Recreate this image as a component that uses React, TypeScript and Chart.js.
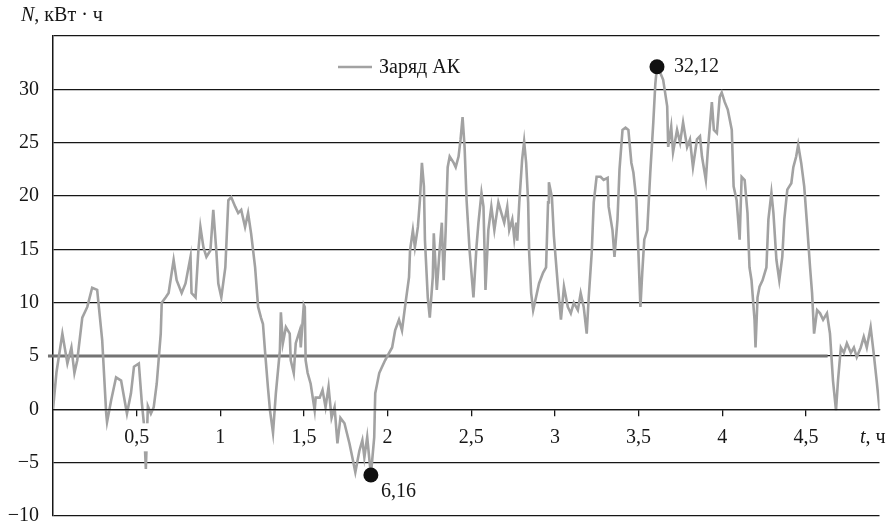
import React, { useEffect, useRef } from 'react';
import { Chart, registerables } from 'chart.js';

Chart.register(...registerables);

// ---- data ----
const timeH = [
  0.000, 0.021, 0.056, 0.086, 0.110, 0.128, 0.145, 0.175, 0.205, 0.234, 0.264, 0.294, 0.318, 0.323, 0.347, 0.377,
  0.407, 0.442, 0.466, 0.484, 0.513, 0.531, 0.543, 0.555, 0.567, 0.585, 0.602, 0.620, 0.644, 0.650, 0.674, 0.691,
  0.721, 0.739, 0.769, 0.792, 0.822, 0.828, 0.852, 0.869, 0.881, 0.899, 0.917, 0.941, 0.958, 0.976, 0.988, 1.006,
  1.030, 1.048, 1.065, 1.089, 1.107, 1.125, 1.148, 1.166, 1.184, 1.208, 1.226, 1.243, 1.255, 1.267, 1.285, 1.297,
  1.315, 1.332, 1.356, 1.362, 1.374, 1.392, 1.415, 1.421, 1.439, 1.451, 1.475, 1.481, 1.499, 1.505, 1.510, 1.522,
  1.540, 1.564, 1.570, 1.594, 1.611, 1.629, 1.647, 1.665, 1.683, 1.700, 1.718, 1.742, 1.772, 1.789, 1.807, 1.831,
  1.849, 1.861, 1.878, 1.900, 1.920, 1.926, 1.950, 1.967, 1.985, 2.009, 2.027, 2.045, 2.068, 2.086, 2.104, 2.128,
  2.134, 2.151, 2.163, 2.181, 2.193, 2.205, 2.217, 2.223, 2.240, 2.252, 2.270, 2.276, 2.294, 2.312, 2.324, 2.335,
  2.347, 2.359, 2.371, 2.395, 2.407, 2.424, 2.436, 2.448, 2.460, 2.472, 2.490, 2.513, 2.531, 2.543, 2.561, 2.573,
  2.585, 2.602, 2.620, 2.638, 2.662, 2.680, 2.697, 2.715, 2.727, 2.745, 2.757, 2.769, 2.775, 2.787, 2.804, 2.816,
  2.828, 2.840, 2.846, 2.858, 2.870, 2.887, 2.905, 2.929, 2.947, 2.959, 2.964, 2.982, 2.994, 3.018, 3.036, 3.054,
  3.077, 3.095, 3.113, 3.137, 3.154, 3.172, 3.190, 3.202, 3.220, 3.232, 3.249, 3.273, 3.291, 3.315, 3.321, 3.344,
  3.356, 3.374, 3.386, 3.404, 3.422, 3.439, 3.457, 3.469, 3.487, 3.499, 3.511, 3.522, 3.534, 3.552, 3.570, 3.588,
  3.600, 3.610, 3.623, 3.647, 3.671, 3.677, 3.695, 3.706, 3.730, 3.748, 3.766, 3.790, 3.807, 3.825, 3.849, 3.867,
  3.879, 3.902, 3.914, 3.938, 3.950, 3.968, 3.985, 3.997, 4.015, 4.033, 4.057, 4.068, 4.086, 4.104, 4.116, 4.134,
  4.151, 4.163, 4.175, 4.193, 4.199, 4.211, 4.223, 4.241, 4.264, 4.276, 4.294, 4.306, 4.324, 4.341, 4.359, 4.371,
  4.389, 4.413, 4.425, 4.442, 4.454, 4.472, 4.490, 4.508, 4.525, 4.537, 4.549, 4.567, 4.585, 4.603, 4.626, 4.644,
  4.662, 4.680, 4.692, 4.709, 4.727, 4.745, 4.769, 4.787, 4.804, 4.828, 4.846, 4.864, 4.887, 4.905, 4.923, 4.941,
];

const chargeKWh = [
  0.0, 3.5, 7.1, 4.3, 5.8, 3.4, 4.6, 8.6, 9.6, 11.4, 11.2, 6.5, -0.4, -1.2, 0.8, 3.0,
  2.7, -0.4, 1.5, 4.0, 4.3, 0.6, -1.3, -5.6, 0.3, -0.4, 0.2, 2.4, 7.1, 10.0, 10.5, 10.9,
  14.0, 12.1, 10.9, 11.8, 14.3, 10.9, 10.5, 14.9, 17.1, 15.2, 14.3, 14.9, 18.7, 14.9, 11.8, 10.5,
  13.3, 19.6, 19.9, 19.0, 18.4, 18.7, 17.1, 18.4, 16.5, 13.3, 9.6, 8.6, 8.0, 5.5, 2.0, -0.1,
  -2.2, 1.5, 5.5, 9.1, 6.2, 7.7, 7.1, 4.6, 3.4, 6.2, 7.4, 5.8, 9.8, 9.6, 4.6, 3.4,
  2.4, -0.1, 1.1, 1.1, 1.8, 0.2, 2.1, -0.8, 0.2, -3.2, -0.8, -1.3, -3.2, -4.5, -5.9, -3.9,
  -2.9, -4.5, -2.6, -6.16, -2.6, 1.5, 3.4, 4.0, 4.6, 5.3, 5.8, 7.4, 8.4, 7.4, 9.6, 12.4,
  14.9, 16.8, 15.2, 17.1, 19.6, 23.1, 20.9, 15.9, 10.5, 8.6, 12.4, 16.5, 11.2, 15.2, 17.5, 12.1,
  16.8, 22.7, 23.7, 23.1, 22.7, 23.7, 25.3, 27.4, 24.6, 19.6, 14.9, 10.5, 15.2, 17.5, 20.3, 19.0,
  11.2, 16.8, 19.0, 16.8, 19.4, 18.4, 17.5, 19.0, 16.8, 17.8, 16.0, 17.5, 15.8, 19.4, 23.4, 25.1,
  23.1, 19.4, 14.7, 10.9, 9.3, 10.5, 11.8, 12.8, 13.3, 19.4, 21.3, 19.9, 16.2, 11.5, 8.4, 11.5,
  9.6, 9.0, 10.0, 9.3, 10.9, 9.6, 7.1, 10.5, 14.7, 19.4, 21.8, 21.8, 21.5, 21.7, 19.0, 16.8,
  14.3, 17.8, 22.5, 26.2, 26.4, 26.2, 23.1, 22.2, 19.6, 14.7, 9.6, 12.8, 15.9, 16.8, 22.2, 26.9,
  30.5, 32.12, 31.8, 30.9, 28.4, 24.6, 26.5, 24.1, 26.2, 25.0, 26.9, 24.6, 25.3, 22.7, 25.3, 25.6,
  23.7, 21.5, 24.3, 28.8, 26.2, 25.9, 29.3, 29.7, 28.8, 28.1, 26.2, 20.9, 19.6, 15.9, 21.8, 21.5,
  18.4, 13.3, 12.1, 8.4, 5.8, 10.5, 11.5, 12.1, 13.3, 17.8, 20.3, 18.4, 14.0, 12.1, 14.3, 17.8,
  20.6, 21.2, 22.7, 23.7, 24.8, 23.1, 20.9, 17.1, 13.3, 10.9, 7.1, 9.3, 9.0, 8.4, 9.0, 7.1,
  2.7, -0.1, 2.7, 5.8, 5.3, 6.2, 5.3, 5.8, 4.9, 5.8, 6.8, 5.8, 7.7, 5.3, 2.7, -0.1,
];

// grey horizontal level drawn along N = 5 (ends near t = 4.63 h)
const levelT = [-0.03, 4.63];
const levelN = [5, 5];

const extremaT = [1.9, 3.61];
const extremaN = [-6.16, 32.12];
const extremaLabels = ['6,16', '32,12'];

const seriesLabel = 'Заряд АК';
const yTitleItalic = 'N';
const yTitleRest = ', кВт · ч';
const xTitleItalic = 't';
const xTitleRest = ', ч';

const X_MIN = 0;
const X_MAX = 4.94;
const Y_MIN = -10;
const Y_MAX = 35;
const X_STEP = 0.5;
const Y_STEP = 5;

const FONT = '"Liberation Serif", "Times New Roman", serif';
const FONT_SIZE = 20;
const LINE_COLOR = '#a2a2a2';
const LEVEL_COLOR = '#737373';
const INK = '#161616';

const fmt = (v: number) => String(Math.round(v * 100) / 100).replace('.', ',').replace('-', '\u2212');

const textPlugin = {
  id: 'textPlugin',
  afterDraw(chart: any) {
    const ctx = chart.ctx as CanvasRenderingContext2D;
    const xs = chart.scales.x;
    const ys = chart.scales.y;
    ctx.save();
    ctx.fillStyle = INK;
    ctx.textBaseline = 'middle';
    ctx.textAlign = 'left';

    // y axis title
    ctx.font = `italic ${FONT_SIZE}px ${FONT}`;
    ctx.fillText(yTitleItalic, 21, 16);
    let w = ctx.measureText(yTitleItalic).width;
    ctx.font = `${FONT_SIZE}px ${FONT}`;
    ctx.fillText(yTitleRest, 21 + w, 16);

    // x axis title
    const y0 = ys.getPixelForValue(0);
    ctx.font = `italic ${FONT_SIZE}px ${FONT}`;
    ctx.fillText(xTitleItalic, 860, y0 + 28);
    w = ctx.measureText(xTitleItalic).width;
    ctx.font = `${FONT_SIZE}px ${FONT}`;
    ctx.fillText(xTitleRest, 860 + w, y0 + 28);

    // legend
    ctx.strokeStyle = LINE_COLOR;
    ctx.lineWidth = 2.5;
    ctx.beginPath();
    ctx.moveTo(338, 67);
    ctx.lineTo(372, 67);
    ctx.stroke();
    ctx.fillText(seriesLabel, 379, 68);

    // extrema labels
    extremaT.forEach((t, i) => {
      const px = xs.getPixelForValue(t);
      const py = ys.getPixelForValue(extremaN[i]);
      const below = extremaN[i] < 0;
      ctx.fillText(extremaLabels[i], px + (below ? 10 : 17), py + (below ? 17 : 0));
    });
    ctx.restore();
  },
};

export default function App() {
  const ref = useRef<HTMLCanvasElement | null>(null);

  useEffect(() => {
    document.body.style.margin = '0';
    const canvas = ref.current;
    if (!canvas) return;
    const chart = new Chart(canvas, {
      type: 'line',
      data: {
        datasets: [
          {
            label: 'extrema',
            data: extremaT.map((t, i) => ({ x: t, y: extremaN[i] })),
            showLine: false,
            pointRadius: 7.5,
            pointBackgroundColor: '#111',
            pointBorderColor: '#111',
            pointBorderWidth: 0,
            order: 0,
          },
          {
            label: seriesLabel,
            data: timeH.map((t, i) => ({ x: t, y: chargeKWh[i] })),
            borderColor: LINE_COLOR,
            borderWidth: 2.6,
            pointRadius: 0,
            tension: 0,
            fill: false,
            order: 1,
          },
          {
            label: 'level',
            data: levelT.map((t, i) => ({ x: t, y: levelN[i] })),
            borderColor: LEVEL_COLOR,
            borderWidth: 3,
            pointRadius: 0,
            fill: false,
            clip: 6,
            order: 2,
          },
        ],
      },
      options: {
        responsive: false,
        animation: false,
        devicePixelRatio: 1,
        layout: { padding: { top: 36, right: 1, bottom: 10, left: 0 } },
        plugins: { legend: { display: false }, tooltip: { enabled: false } },
        scales: {
          x: {
            type: 'linear',
            position: { y: 0 } as any,
            min: X_MIN,
            max: X_MAX,
            afterBuildTicks: (s: any) => {
              s.ticks = s.ticks.filter(
                (t: any) => t.value > 0 && Math.abs(t.value / X_STEP - Math.round(t.value / X_STEP)) < 1e-6
              );
            },
            afterFit: (s: any) => {
              s.paddingLeft = 0;
              s.paddingRight = 0;
              s.paddingTop = 0;
              s.paddingBottom = 0;
            },
            ticks: {
              stepSize: X_STEP,
              color: INK,
              font: { family: FONT, size: FONT_SIZE },
              padding: 10,
              maxRotation: 0,
              autoSkip: false,
              showLabelBackdrop: true,
              backdropColor: '#ffffff',
              backdropPadding: 2,
              z: 1,
              callback: (v: any) => fmt(Number(v)),
            },
            grid: { drawOnChartArea: false, drawTicks: true, tickLength: 6, color: INK, lineWidth: 1.3, z: 1 },
            border: { display: true, color: INK, width: 1.3, z: 2 },
          },
          y: {
            type: 'linear',
            min: Y_MIN,
            max: Y_MAX,
            afterFit: (s: any) => {
              s.width = 53;
              s.paddingTop = 0;
              s.paddingBottom = 0;
              s.paddingLeft = 0;
              s.paddingRight = 0;
            },
            ticks: {
              stepSize: Y_STEP,
              color: INK,
              font: { family: FONT, size: FONT_SIZE },
              padding: 14,
              callback: (v: any) => (Number(v) >= Y_MAX ? '' : fmt(Number(v))),
            },
            grid: {
              drawTicks: false,
              color: INK,
              lineWidth: 1.3,
            },
            border: { display: true, color: INK, width: 1.5 },
          },
        },
      },
      plugins: [textPlugin],
    });
    return () => chart.destroy();
  }, []);

  return (
    <div style={{ width: 887, height: 526, position: 'relative', background: '#fff' }}>
      <canvas ref={ref} width={887} height={526} />
    </div>
  );
}
